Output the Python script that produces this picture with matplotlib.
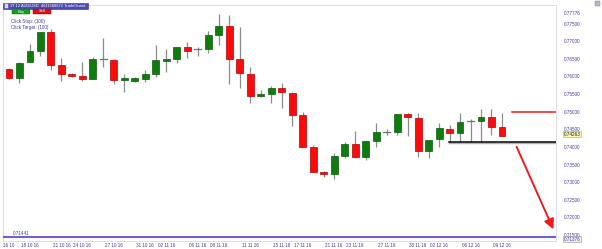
import matplotlib
matplotlib.use("Agg")
import matplotlib.pyplot as plt
from matplotlib.patches import Rectangle
from matplotlib.transforms import blended_transform_factory

plt.rcParams['font.family'] = ['Liberation Sans', 'DejaVu Sans']

# ---- data (daily AUD/USD candles) ----
opens = [0.7621, 0.7595, 0.7641, 0.7672, 0.7726, 0.7632, 0.7607, 0.7601, 0.7593, 0.7649,
         0.7646, 0.7590, 0.7587, 0.7593, 0.7607, 0.7644, 0.7649, 0.7683, 0.7678, 0.7677,
         0.7717, 0.7743, 0.7649, 0.7607, 0.7544, 0.7550, 0.7567, 0.7553, 0.7490, 0.7400,
         0.7329, 0.7323, 0.7374, 0.7408, 0.7371, 0.7417, 0.7442, 0.7442, 0.7493, 0.7482,
         0.7388, 0.7422, 0.7451, 0.7439, 0.7473, 0.7473, 0.7485, 0.7456]
highs = [0.7624, 0.7641, 0.7692, 0.7727, 0.7734, 0.7652, 0.7610, 0.7641, 0.7655, 0.7709,
         0.7649, 0.7607, 0.7598, 0.7618, 0.7689, 0.7678, 0.7684, 0.7698, 0.7683, 0.7729,
         0.77776, 0.7774, 0.7740, 0.7627, 0.7561, 0.7573, 0.7581, 0.7556, 0.7499, 0.7405,
         0.7332, 0.7383, 0.7414, 0.7445, 0.7417, 0.7468, 0.7451, 0.7493, 0.7496, 0.7496,
         0.7420, 0.7468, 0.7462, 0.7496, 0.7479, 0.7507, 0.7507, 0.7496]
lows = [0.7593, 0.7581, 0.7640, 0.7658, 0.7618, 0.7587, 0.7598, 0.7587, 0.7592, 0.7627,
        0.7578, 0.7556, 0.7584, 0.7584, 0.7598, 0.7612, 0.7638, 0.7652, 0.7658, 0.7666,
        0.7689, 0.7578, 0.7567, 0.7525, 0.7541, 0.7525, 0.7510, 0.7459, 0.7400, 0.7329,
        0.7315, 0.7309, 0.7368, 0.7368, 0.7363, 0.7400, 0.7434, 0.7434, 0.7431, 0.7371,
        0.7368, 0.7400, 0.7414, 0.7414, 0.7414, 0.7414, 0.7434, 0.7430]
closes = [0.7595, 0.7638, 0.7672, 0.7726, 0.7632, 0.7607, 0.7601, 0.7593, 0.7649, 0.7648,
          0.7590, 0.7595, 0.7595, 0.7607, 0.7646, 0.7649, 0.7683, 0.7672, 0.7677, 0.7717,
          0.7743, 0.7649, 0.7610, 0.7544, 0.7550, 0.7567, 0.7556, 0.7490, 0.7400, 0.7329,
          0.7323, 0.7374, 0.7408, 0.7371, 0.7417, 0.7442, 0.7442, 0.7493, 0.7485, 0.7388,
          0.7420, 0.7454, 0.7439, 0.7471, 0.7473, 0.7485, 0.7456, 0.7432]

date_idx = [0, 2, 5, 7, 10, 13, 15, 18, 20, 23, 26, 28, 31, 33, 36, 39, 41, 44, 47]
date_labels = ['16 10', '18 10 16', '21 10 16', '24 10 16', '27 10 16', '31 10 16',
               '02 11 16', '06 11 16', '08 11 16', '11 11 16', '15 11 16', '17 11 16',
               '21 11 16', '23 11 16', '27 11 16', '30 11 16', '02 12 16', '06 12 16',
               '09 12 16']

price_ticks = [0.775, 0.770, 0.765, 0.760, 0.755, 0.750, 0.745, 0.740, 0.735, 0.730,
               0.725, 0.720, 0.715]
stop_level = 0.74138
target_level = 0.75000
bottom_level = 0.71441
last_label = "0.74263"
top_label = "0.77776"
min_label = "0.71376"
arrow_from = (48.4, 0.7400)
arrow_to = (51.9, 0.7166)

W, H = 602, 249
fig = plt.figure(figsize=(W / 100, H / 100), dpi=100)
fig.patch.set_facecolor('white')

L, R, T, B = 3, 556, 5, 241
ax = fig.add_axes([L / W, 1 - B / H, (R - L) / W, (B - T) / H])
ax.set_facecolor('white')
ax.set_xlim(-0.572, 52.15)
ax.set_ylim(0.71330, 0.78025)

txtc = '#3c3ca0'
green = '#0e7d0e'
green_e = '#0a5a0a'
red = '#ff0a0a'
red_e = '#b00000'
wick = '#8c8c8c'
bw = 0.66
fs = 3.3

for i, (o, h, l, c) in enumerate(zip(opens, highs, lows, closes)):
    ax.plot([i, i], [l, h], color=wick, lw=0.9, zorder=2, solid_capstyle='butt')
    if abs(c - o) < 0.00012:
        ax.plot([i - bw / 2, i + bw / 2], [o, o], color='#707070', lw=0.9, zorder=3)
        continue
    up = c > o
    ax.add_patch(Rectangle((i - bw / 2, min(o, c)), bw, abs(c - o),
                           facecolor=green if up else red,
                           edgecolor=green_e if up else red_e, lw=0.5, zorder=3))

# horizontal levels
ax.plot([41.95, 52.15], [stop_level - 0.0004, stop_level - 0.0004], color='#b0b0b0', lw=1.0, zorder=4)
ax.plot([41.95, 52.15], [stop_level, stop_level], color='black', lw=1.1, zorder=5)
ax.plot([48.0, 52.15], [target_level, target_level], color='#ee1c1c', lw=1.1, zorder=5)
ax.axhline(bottom_level, color='#7060d8', lw=1.5, zorder=5)
ax.annotate('', xy=arrow_to, xytext=arrow_from,
            arrowprops=dict(arrowstyle='-|>,head_length=0.6,head_width=0.3',
                            color='#ee1c1c', lw=1.4, shrinkA=0, shrinkB=0), zorder=6)

ax.text(0.4, bottom_level + 0.0004, '0.71441', color=txtc, fontsize=fs,
        va='bottom', ha='left')

# axes styling
for s in ax.spines.values():
    s.set_color('#d8d8e8')
    s.set_linewidth(0.6)
ax.yaxis.tick_right()
ax.set_yticks(price_ticks)
ax.set_yticklabels([f"{p:.5f}" for p in price_ticks])
ax.tick_params(axis='y', length=0, pad=5.5, labelsize=fs, labelcolor=txtc)
ax.set_xticks(date_idx)
ax.set_xticklabels(date_labels)
ax.tick_params(axis='x', length=0, pad=1.5, labelsize=fs, labelcolor=txtc)

# extra right-side labels
tr = blended_transform_factory(ax.transAxes, ax.transData)
xr = 1 + 7.5 / (R - L)
ax.text(xr, 0.77776, top_label, transform=tr, fontsize=fs, color=txtc,
        va='center', ha='left', clip_on=False)
ax.text(xr, 0.74360, last_label, transform=tr, fontsize=fs, color='#202020',
        va='center', ha='left', clip_on=False,
        bbox=dict(boxstyle='square,pad=0.12', fc='#fff8b0', ec='#a0a0a0', lw=0.4))
ax.text(xr, 0.71376, min_label, transform=tr, fontsize=fs, color=txtc,
        va='center', ha='left', clip_on=False,
        bbox=dict(boxstyle='square,pad=0.12', fc='#f0f0f0', ec='#909090', lw=0.4))

# header and buttons (figure pixel coordinates)
def fx(x):
    return x / W

def fy(y):
    return 1 - y / H

fig.patches.append(Rectangle((fx(3), fy(9)), fx(85), 6 / H, transform=fig.transFigure,
                             facecolor='#4a4ab0', edgecolor='#30308a', lw=0.4))
fig.patches.append(Rectangle((fx(4.5), fy(8)), fx(3.5), 4 / H, transform=fig.transFigure,
                             facecolor='#d0d0e0', edgecolor='white', lw=0.3))
fig.text(fx(10), fy(6), '1T 12 AUD/USD  4611568672 TradeGuard', fontsize=2.9,
         color='white', va='center', ha='left')
fig.patches.append(Rectangle((fx(12), fy(14)), fx(18), 5 / H, transform=fig.transFigure,
                             facecolor='#11a011', edgecolor='#0a6a0a', lw=0.3))
fig.text(fx(21), fy(11.5), 'Buy', fontsize=2.9, color='white', va='center', ha='center')
fig.patches.append(Rectangle((fx(33), fy(14)), fx(18), 5 / H, transform=fig.transFigure,
                             facecolor='#e01010', edgecolor='#900000', lw=0.3))
fig.text(fx(42), fy(11.5), 'Sell', fontsize=2.9, color='white', va='center', ha='center')
fig.text(fx(11), fy(21.5), 'Click Stop: (100)', fontsize=fs, color=txtc, va='center', ha='left')
fig.text(fx(11), fy(27), 'Click Target: (100)', fontsize=fs, color=txtc, va='center', ha='left')

# small corner widget
fig.patches.append(Rectangle((fx(595), fy(6)), fx(5), 5 / H, transform=fig.transFigure,
                             facecolor='#b8b8c8', edgecolor='#808090', lw=0.3))

fig.savefig('out.png', dpi=100, facecolor='white')
